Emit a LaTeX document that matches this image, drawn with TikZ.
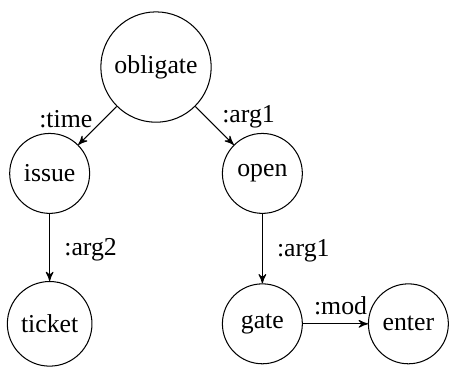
\documentclass[tikz,border=0pt]{standalone}
\usepackage{fontspec}
\setmainfont{Liberation Serif}
\usetikzlibrary{arrows}

\begin{document}
\begin{tikzpicture}[->,>=stealth',auto,node distance=2.05cm,
	thin,concept/.style={circle,draw,inner sep=3.7pt,minimum size=31pt},
	rel/.style={inner sep=0.8pt,yshift=-2pt},vrel/.style={inner sep=5.5pt,yshift=-1pt}]
\node[concept] (obligate) {obligate};
\node[concept] (issue) [below left of=obligate] {issue};
\node[concept] (open) [below right of=obligate] {open};
\node[concept] (ticket) [below of=issue] {ticket};
\node[concept] (gate) [below of=open] {gate};
\node[concept] (enter) [right of=gate, node distance=1.99cm] {enter};
\useasboundingbox ([xshift=-60.5pt,yshift=26pt]obligate.center)
	rectangle ([xshift=114pt,yshift=-115.5pt]obligate.center);
\path
	(obligate) 	edge [swap] node[rel,xshift=-1pt] {:time} (issue)
		edge node[rel,xshift=2pt] {:arg1} (open)
	(issue) edge node[vrel] {:arg2} (ticket)
	(open) edge node[vrel] {:arg1} (gate)
	(gate) edge node[xshift=2pt] {:mod} (enter);
\end{tikzpicture}
\end{document}
